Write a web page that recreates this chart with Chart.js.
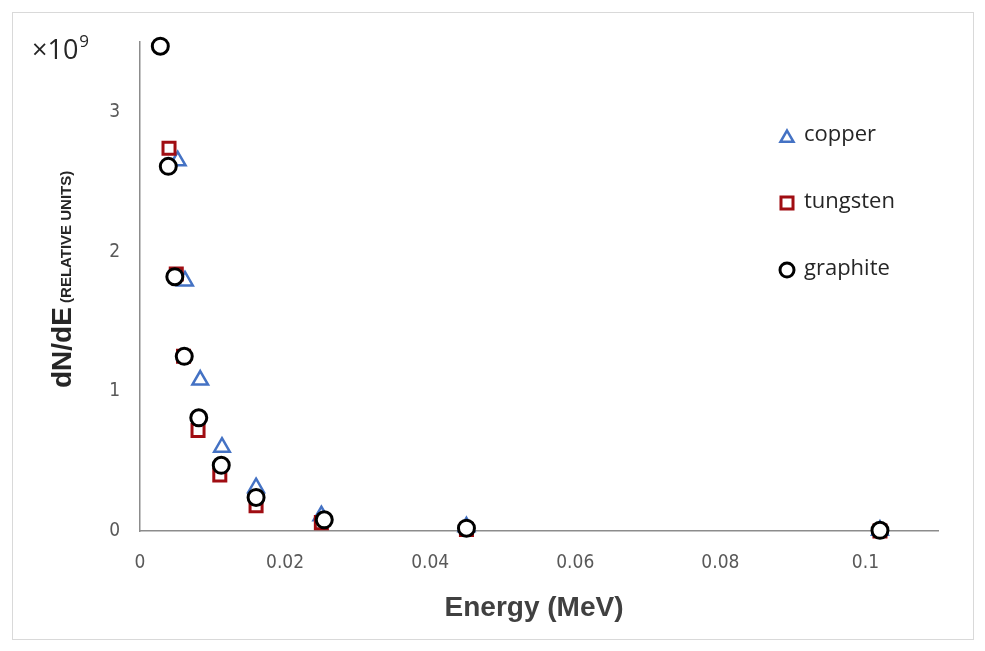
<!DOCTYPE html>
<html>
<head>
<meta charset="utf-8">
<script src="https://cdn.jsdelivr.net/npm/chart.js@4"></script>
<style>
  html, body { margin: 0; padding: 0; background: #fff; }
  #wrap { width: 985px; height: 651px; position: relative; }
</style>
</head>
<body>
<div id="wrap"><canvas id="chart" width="985" height="651"></canvas></div>
<script>
// dN/dE values in units of 1e9 (axis shows x10^9)
const copperE = [0.0052, 0.0062, 0.0083, 0.0113, 0.016, 0.025, 0.045, 0.102];
const copperN = [2.65, 1.79, 1.08, 0.60, 0.31, 0.11, 0.03, 0.005];

const tungstenE = [0.004, 0.005, 0.006, 0.008, 0.011, 0.016, 0.025, 0.045, 0.102];
const tungstenN = [2.74, 1.84, 1.25, 0.72, 0.40, 0.18, 0.06, 0.01, 0.0];

const graphiteE = [0.0028, 0.0039, 0.0048, 0.0061, 0.0081, 0.0112, 0.016, 0.0254, 0.045, 0.102];
const graphiteN = [3.47, 2.61, 1.82, 1.25, 0.81, 0.47, 0.24, 0.08, 0.02, 0.005];

const xTicks = [0, 0.02, 0.04, 0.06, 0.08, 0.1];
const yTicks = [0, 1, 2, 3];

const toPoints = (xs, ys) => xs.map((x, i) => ({ x: x, y: ys[i] }));

const textDark = "#262626";
const tickGray = "#595959";
const tickFont = "'Liberation Sans Narrow', 'DejaVu Sans Condensed', 'Open Sans', sans-serif";

// titles, frame, and the legend on the right
const decorations = {
  id: "decorations",
  beforeDraw(chart) {
    const ctx = chart.ctx;
    ctx.save();
    ctx.fillStyle = "#fff";
    ctx.fillRect(0, 0, chart.width, chart.height);
    ctx.strokeStyle = "#d9d9d9";
    ctx.lineWidth = 1;
    ctx.strokeRect(12.5, 12.5, 961, 627);
    ctx.restore();
  },
  afterDraw(chart) {
    const ctx = chart.ctx;
    const area = chart.chartArea;
    ctx.save();

    // x10^9
    ctx.fillStyle = textDark;
    ctx.textBaseline = "alphabetic";
    ctx.textAlign = "left";
    ctx.font = "27px 'Open Sans', sans-serif";
    ctx.fillText("\u00d710", 32, 59);
    const w = ctx.measureText("\u00d710").width;
    ctx.font = "17px 'Open Sans', sans-serif";
    ctx.fillText("9", 32 + w + 1, 47);

    // x axis title
    ctx.font = "bold 28px 'Liberation Sans', 'Open Sans', sans-serif";
    ctx.textAlign = "center";
    ctx.fillStyle = "#404040";
    ctx.fillText("Energy (MeV)", (area.left + area.right) / 2 - 5, 616);

    // y axis title (two sizes on one baseline)
    ctx.translate(71, 388);
    ctx.rotate(-Math.PI / 2);
    ctx.textAlign = "left";
    ctx.fillStyle = textDark;
    ctx.font = "bold 28px 'Liberation Sans', sans-serif";
    ctx.fillText("dN/dE", 0, 0);
    const dw = ctx.measureText("dN/dE").width;
    ctx.font = "bold 15px 'Liberation Sans', sans-serif";
    ctx.fillText(" (RELATIVE UNITS)", dw, 0);
    ctx.setTransform(1, 0, 0, 1, 0, 0);
    ctx.restore();

    // legend
    ctx.save();
    const rows = [chart.data.datasets[0], chart.data.datasets[1], chart.data.datasets[2]];
    rows.forEach((ds, i) => {
      const y = 136 + i * 67;
      ctx.strokeStyle = ds.borderColor;
      ctx.fillStyle = "#fff";
      ctx.lineWidth = ds.borderWidth;
      Chart.helpers.drawPoint(ctx, {
        pointStyle: ds.pointStyle,
        radius: ds.legendRadius,
        rotation: 0,
        borderWidth: ds.borderWidth
      }, 787, ds.pointStyle === "triangle" ? y + 2 : y);
      ctx.fillStyle = textDark;
      ctx.font = "22px 'Open Sans', sans-serif";
      ctx.textAlign = "left";
      ctx.textBaseline = "middle";
      ctx.fillText(ds.label, 804, y - 1);
    });
    ctx.restore();
  }
};

new Chart(document.getElementById("chart"), {
  type: "scatter",
  data: {
    datasets: [
      {
        label: "copper",
        data: toPoints(copperE, copperN),
        pointStyle: "triangle",
        pointRadius: 9,
        legendRadius: 7.5,
        borderColor: "#4472C4",
        backgroundColor: "#fff",
        borderWidth: 2.5,
        clip: false,
        order: 2
      },
      {
        label: "tungsten",
        data: toPoints(tungstenE, tungstenN),
        pointStyle: "rect",
        pointRadius: 8.5,
        legendRadius: 8.5,
        borderColor: "#A00D12",
        backgroundColor: "#fff",
        borderWidth: 3,
        clip: false,
        order: 1
      },
      {
        label: "graphite",
        data: toPoints(graphiteE, graphiteN),
        pointStyle: "circle",
        pointRadius: 8,
        legendRadius: 7,
        borderColor: "#000",
        backgroundColor: "#fff",
        borderWidth: 3,
        clip: false,
        order: 0
      }
    ]
  },
  options: {
    responsive: false,
    animation: false,
    events: [],
    layout: { padding: { left: 0, top: 42, right: 47, bottom: 0 } },
    plugins: {
      legend: { display: false },
      tooltip: { enabled: false }
    },
    scales: {
      x: {
        type: "linear",
        min: 0,
        max: 0.11,
        afterFit: (s) => { s.height = 120; },
        afterBuildTicks: (s) => { s.ticks = xTicks.map((v) => ({ value: v })); },
        grid: { display: false, drawTicks: false },
        border: { display: true, color: "#8c8c8c", width: 1.5 },
        ticks: {
          padding: 21,
          color: tickGray,
          font: { family: tickFont, size: 19 },
          callback: (v) => String(+v.toFixed(3))
        }
      },
      y: {
        type: "linear",
        min: 0,
        max: 3.5,
        afterFit: (s) => { s.width = 140; },
        afterBuildTicks: (s) => { s.ticks = yTicks.map((v) => ({ value: v })); },
        grid: { display: false, drawTicks: false },
        border: { display: true, color: "#8c8c8c", width: 1.5 },
        ticks: {
          padding: 20,
          color: tickGray,
          font: { family: tickFont, size: 19 },
          callback: (v) => String(v)
        }
      }
    }
  },
  plugins: [decorations]
});
</script>
</body>
</html>
